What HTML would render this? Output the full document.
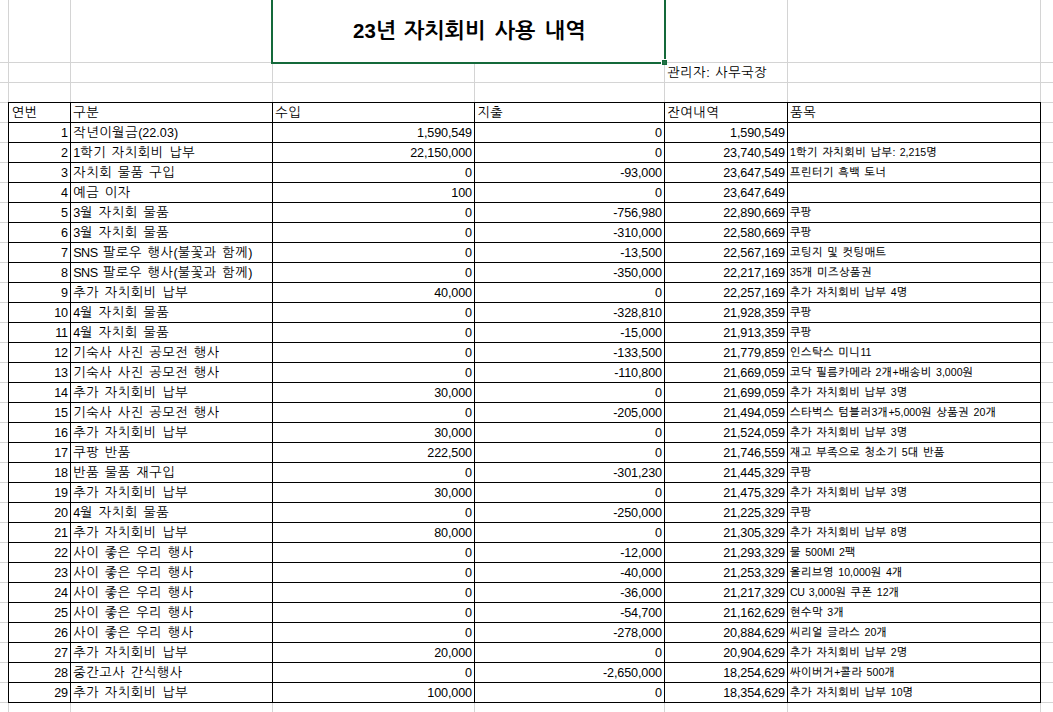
<!DOCTYPE html>
<html lang="ko"><head><meta charset="utf-8"><title>23년 자치회비 사용 내역</title>
<style>
html,body{margin:0;padding:0;background:#fff;}
body{width:1053px;height:712px;position:relative;overflow:hidden;color:#000;font-family:"Liberation Sans", "NanumGothic", sans-serif;font-size:13.2px;word-spacing:1.25px;letter-spacing:0.6px;}
.g{position:absolute;background:#d4d4d4;}
.b{position:absolute;background:#000;}
.r{position:absolute;left:0;width:1053px;height:20px;line-height:20px;white-space:nowrap;}
.r span{position:absolute;top:1px;height:20px;white-space:nowrap;}
.a{left:9px;width:59px;text-align:right;}
.h.a{text-align:left;left:11.2px;}
.c{left:73.2px;}
.d{left:273px;width:199px;text-align:right;}
.e{left:475px;width:187px;text-align:right;}
.f{left:665px;width:120px;text-align:right;}
.h .d{text-align:left;left:275.2px;}
.h .e{text-align:left;left:477.2px;}
.h .f{text-align:left;left:667.2px;}
.r span.s{left:790.0px;font-size:11px;top:0px;word-spacing:0.4px;letter-spacing:0.7px;-webkit-text-stroke:0.15px #000;}
.r span.n{font-family:"Liberation Sans", "NanumGothic", sans-serif;font-size:12.6px;top:1px;word-spacing:0;letter-spacing:-0.12px;}
#t{position:absolute;left:273px;top:0;width:391px;height:62px;line-height:62px;text-align:center;font-weight:bold;font-size:21.6px;white-space:nowrap;word-spacing:3.5px;letter-spacing:0px;}
#t span{position:relative;top:0px;left:0px;}
#m{position:absolute;left:667.2px;top:63px;height:20px;line-height:20px;white-space:nowrap;}
i{font-style:normal;letter-spacing:0px;font-size:12.6px;}
.r span.s i{-webkit-text-stroke:0;font-size:10.6px;letter-spacing:0px;}
#t i{font-size:20.4px;letter-spacing:0px;display:inline-block;transform:scaleX(1);transform-origin:0 50%;margin-right:0px;}
#t b{font-weight:inherit;position:relative;left:1.5px;}
.k{position:absolute;background:#14693a;}
</style></head><body>
<div class="g" style="left:8px;top:0px;width:1px;height:712px"></div>
<div class="g" style="left:70px;top:0px;width:1px;height:712px"></div>
<div class="g" style="left:272px;top:0px;width:1px;height:712px"></div>
<div class="g" style="left:474px;top:62px;width:1px;height:650px"></div>
<div class="g" style="left:664px;top:0px;width:1px;height:712px"></div>
<div class="g" style="left:787px;top:0px;width:1px;height:712px"></div>
<div class="g" style="left:1040px;top:0px;width:1px;height:712px"></div>
<div class="g" style="left:0;top:62px;width:1053px;height:1px"></div>
<div class="g" style="left:0;top:82px;width:1053px;height:1px"></div>
<div class="g" style="left:0;top:102px;width:1053px;height:1px"></div>
<div class="g" style="left:0;top:122px;width:1053px;height:1px"></div>
<div class="g" style="left:0;top:142px;width:1053px;height:1px"></div>
<div class="g" style="left:0;top:162px;width:1053px;height:1px"></div>
<div class="g" style="left:0;top:182px;width:1053px;height:1px"></div>
<div class="g" style="left:0;top:202px;width:1053px;height:1px"></div>
<div class="g" style="left:0;top:222px;width:1053px;height:1px"></div>
<div class="g" style="left:0;top:242px;width:1053px;height:1px"></div>
<div class="g" style="left:0;top:262px;width:1053px;height:1px"></div>
<div class="g" style="left:0;top:282px;width:1053px;height:1px"></div>
<div class="g" style="left:0;top:302px;width:1053px;height:1px"></div>
<div class="g" style="left:0;top:322px;width:1053px;height:1px"></div>
<div class="g" style="left:0;top:342px;width:1053px;height:1px"></div>
<div class="g" style="left:0;top:362px;width:1053px;height:1px"></div>
<div class="g" style="left:0;top:382px;width:1053px;height:1px"></div>
<div class="g" style="left:0;top:402px;width:1053px;height:1px"></div>
<div class="g" style="left:0;top:422px;width:1053px;height:1px"></div>
<div class="g" style="left:0;top:442px;width:1053px;height:1px"></div>
<div class="g" style="left:0;top:462px;width:1053px;height:1px"></div>
<div class="g" style="left:0;top:482px;width:1053px;height:1px"></div>
<div class="g" style="left:0;top:502px;width:1053px;height:1px"></div>
<div class="g" style="left:0;top:522px;width:1053px;height:1px"></div>
<div class="g" style="left:0;top:542px;width:1053px;height:1px"></div>
<div class="g" style="left:0;top:562px;width:1053px;height:1px"></div>
<div class="g" style="left:0;top:582px;width:1053px;height:1px"></div>
<div class="g" style="left:0;top:602px;width:1053px;height:1px"></div>
<div class="g" style="left:0;top:622px;width:1053px;height:1px"></div>
<div class="g" style="left:0;top:642px;width:1053px;height:1px"></div>
<div class="g" style="left:0;top:662px;width:1053px;height:1px"></div>
<div class="g" style="left:0;top:682px;width:1053px;height:1px"></div>
<div class="g" style="left:0;top:702px;width:1053px;height:1px"></div>
<div class="b" style="left:8px;top:102px;width:1033px;height:1px"></div>
<div class="b" style="left:8px;top:122px;width:1033px;height:1px"></div>
<div class="b" style="left:8px;top:142px;width:1033px;height:1px"></div>
<div class="b" style="left:8px;top:162px;width:1033px;height:1px"></div>
<div class="b" style="left:8px;top:182px;width:1033px;height:1px"></div>
<div class="b" style="left:8px;top:202px;width:1033px;height:1px"></div>
<div class="b" style="left:8px;top:222px;width:1033px;height:1px"></div>
<div class="b" style="left:8px;top:242px;width:1033px;height:1px"></div>
<div class="b" style="left:8px;top:262px;width:1033px;height:1px"></div>
<div class="b" style="left:8px;top:282px;width:1033px;height:1px"></div>
<div class="b" style="left:8px;top:302px;width:1033px;height:1px"></div>
<div class="b" style="left:8px;top:322px;width:1033px;height:1px"></div>
<div class="b" style="left:8px;top:342px;width:1033px;height:1px"></div>
<div class="b" style="left:8px;top:362px;width:1033px;height:1px"></div>
<div class="b" style="left:8px;top:382px;width:1033px;height:1px"></div>
<div class="b" style="left:8px;top:402px;width:1033px;height:1px"></div>
<div class="b" style="left:8px;top:422px;width:1033px;height:1px"></div>
<div class="b" style="left:8px;top:442px;width:1033px;height:1px"></div>
<div class="b" style="left:8px;top:462px;width:1033px;height:1px"></div>
<div class="b" style="left:8px;top:482px;width:1033px;height:1px"></div>
<div class="b" style="left:8px;top:502px;width:1033px;height:1px"></div>
<div class="b" style="left:8px;top:522px;width:1033px;height:1px"></div>
<div class="b" style="left:8px;top:542px;width:1033px;height:1px"></div>
<div class="b" style="left:8px;top:562px;width:1033px;height:1px"></div>
<div class="b" style="left:8px;top:582px;width:1033px;height:1px"></div>
<div class="b" style="left:8px;top:602px;width:1033px;height:1px"></div>
<div class="b" style="left:8px;top:622px;width:1033px;height:1px"></div>
<div class="b" style="left:8px;top:642px;width:1033px;height:1px"></div>
<div class="b" style="left:8px;top:662px;width:1033px;height:1px"></div>
<div class="b" style="left:8px;top:682px;width:1033px;height:1px"></div>
<div class="b" style="left:8px;top:702px;width:1033px;height:1px"></div>
<div class="b" style="left:8px;top:102px;width:1px;height:601px"></div>
<div class="b" style="left:70px;top:102px;width:1px;height:601px"></div>
<div class="b" style="left:272px;top:102px;width:1px;height:601px"></div>
<div class="b" style="left:474px;top:102px;width:1px;height:601px"></div>
<div class="b" style="left:664px;top:102px;width:1px;height:601px"></div>
<div class="b" style="left:787px;top:102px;width:1px;height:601px"></div>
<div class="b" style="left:1040px;top:102px;width:1px;height:601px"></div>
<div class="k" style="left:271px;top:0;width:2px;height:64px"></div>
<div class="k" style="left:271px;top:62px;width:390px;height:2px"></div>
<div class="k" style="left:664px;top:0;width:2px;height:59px"></div>
<div style="position:absolute;left:661px;top:59px;width:6px;height:6px;background:#fff"></div>
<div class="k" style="left:662px;top:60px;width:5px;height:5px"></div><div style="position:absolute;left:663px;top:61px;width:3px;height:3px;background:#217346"></div>
<div id="t"><span><b><i>23</i>년</b> 자치회비 사용 내역</span></div>
<div id="m">관리자<i>:</i> 사무국장</div>
<div class="r h" style="top:102px"><span class="a h" style="margin-left:0.6px">연번</span><span class="c">구분</span><span class="d">수입</span><span class="e">지출</span><span class="f">잔여내역</span><span class="c" style="left:790.2px">품목</span></div>
<div class="r" style="top:122px"><span class="a n">1</span><span class="c">작년이월금<i>(22.03)</i></span><span class="d n">1,590,549</span><span class="e n">0</span><span class="f n">1,590,549</span></div>
<div class="r" style="top:142px"><span class="a n">2</span><span class="c"><i>1</i>학기 자치회비 납부</span><span class="d n">22,150,000</span><span class="e n">0</span><span class="f n">23,740,549</span><span class="s"><i>1</i>학기 자치회비 납부<i>:</i> <i>2,215</i>명</span></div>
<div class="r" style="top:162px"><span class="a n">3</span><span class="c">자치회 물품 구입</span><span class="d n">0</span><span class="e n">-93,000</span><span class="f n">23,647,549</span><span class="s">프린터기 흑백 토너</span></div>
<div class="r" style="top:182px"><span class="a n">4</span><span class="c">예금 이자</span><span class="d n">100</span><span class="e n">0</span><span class="f n">23,647,649</span></div>
<div class="r" style="top:202px"><span class="a n">5</span><span class="c"><i>3</i>월 자치회 물품</span><span class="d n">0</span><span class="e n">-756,980</span><span class="f n">22,890,669</span><span class="s">쿠팡</span></div>
<div class="r" style="top:222px"><span class="a n">6</span><span class="c"><i>3</i>월 자치회 물품</span><span class="d n">0</span><span class="e n">-310,000</span><span class="f n">22,580,669</span><span class="s">쿠팡</span></div>
<div class="r" style="top:242px"><span class="a n">7</span><span class="c"><i style="letter-spacing:-0.5px">SNS</i> 팔로우 행사<i>(</i>불꽃과 함께<i>)</i></span><span class="d n">0</span><span class="e n">-13,500</span><span class="f n">22,567,169</span><span class="s">코팅지 및 컷팅매트</span></div>
<div class="r" style="top:262px"><span class="a n">8</span><span class="c"><i style="letter-spacing:-0.5px">SNS</i> 팔로우 행사<i>(</i>불꽃과 함께<i>)</i></span><span class="d n">0</span><span class="e n">-350,000</span><span class="f n">22,217,169</span><span class="s"><i>35</i>개 미즈상품권</span></div>
<div class="r" style="top:282px"><span class="a n">9</span><span class="c">추가 자치회비 납부</span><span class="d n">40,000</span><span class="e n">0</span><span class="f n">22,257,169</span><span class="s">추가 자치회비 납부 <i>4</i>명</span></div>
<div class="r" style="top:302px"><span class="a n">10</span><span class="c"><i>4</i>월 자치회 물품</span><span class="d n">0</span><span class="e n">-328,810</span><span class="f n">21,928,359</span><span class="s">쿠팡</span></div>
<div class="r" style="top:322px"><span class="a n">11</span><span class="c"><i>4</i>월 자치회 물품</span><span class="d n">0</span><span class="e n">-15,000</span><span class="f n">21,913,359</span><span class="s">쿠팡</span></div>
<div class="r" style="top:342px"><span class="a n">12</span><span class="c">기숙사 사진 공모전 행사</span><span class="d n">0</span><span class="e n">-133,500</span><span class="f n">21,779,859</span><span class="s">인스탁스 미니<i>11</i></span></div>
<div class="r" style="top:362px"><span class="a n">13</span><span class="c">기숙사 사진 공모전 행사</span><span class="d n">0</span><span class="e n">-110,800</span><span class="f n">21,669,059</span><span class="s">코닥 필름카메라 <i>2</i>개<i>+</i>배송비 <i>3,000</i>원</span></div>
<div class="r" style="top:382px"><span class="a n">14</span><span class="c">추가 자치회비 납부</span><span class="d n">30,000</span><span class="e n">0</span><span class="f n">21,699,059</span><span class="s">추가 자치회비 납부 <i>3</i>명</span></div>
<div class="r" style="top:402px"><span class="a n">15</span><span class="c">기숙사 사진 공모전 행사</span><span class="d n">0</span><span class="e n">-205,000</span><span class="f n">21,494,059</span><span class="s">스타벅스 텀블러<i>3</i>개<i>+5,000</i>원 상품권 <i>20</i>개</span></div>
<div class="r" style="top:422px"><span class="a n">16</span><span class="c">추가 자치회비 납부</span><span class="d n">30,000</span><span class="e n">0</span><span class="f n">21,524,059</span><span class="s">추가 자치회비 납부 <i>3</i>명</span></div>
<div class="r" style="top:442px"><span class="a n">17</span><span class="c">쿠팡 반품</span><span class="d n">222,500</span><span class="e n">0</span><span class="f n">21,746,559</span><span class="s">재고 부족으로 청소기 <i>5</i>대 반품</span></div>
<div class="r" style="top:462px"><span class="a n">18</span><span class="c">반품 물품 재구입</span><span class="d n">0</span><span class="e n">-301,230</span><span class="f n">21,445,329</span><span class="s">쿠팡</span></div>
<div class="r" style="top:482px"><span class="a n">19</span><span class="c">추가 자치회비 납부</span><span class="d n">30,000</span><span class="e n">0</span><span class="f n">21,475,329</span><span class="s">추가 자치회비 납부 <i>3</i>명</span></div>
<div class="r" style="top:502px"><span class="a n">20</span><span class="c"><i>4</i>월 자치회 물품</span><span class="d n">0</span><span class="e n">-250,000</span><span class="f n">21,225,329</span><span class="s">쿠팡</span></div>
<div class="r" style="top:522px"><span class="a n">21</span><span class="c">추가 자치회비 납부</span><span class="d n">80,000</span><span class="e n">0</span><span class="f n">21,305,329</span><span class="s">추가 자치회비 납부 <i>8</i>명</span></div>
<div class="r" style="top:542px"><span class="a n">22</span><span class="c">사이 좋은 우리 행사</span><span class="d n">0</span><span class="e n">-12,000</span><span class="f n">21,293,329</span><span class="s">물 <i>500</i><i style="letter-spacing:0.4px">Ml</i> <i>2</i>팩</span></div>
<div class="r" style="top:562px"><span class="a n">23</span><span class="c">사이 좋은 우리 행사</span><span class="d n">0</span><span class="e n">-40,000</span><span class="f n">21,253,329</span><span class="s">올리브영 <i>10,000</i>원 <i>4</i>개</span></div>
<div class="r" style="top:582px"><span class="a n">24</span><span class="c">사이 좋은 우리 행사</span><span class="d n">0</span><span class="e n">-36,000</span><span class="f n">21,217,329</span><span class="s"><i style="letter-spacing:-0.3px">CU</i> <i>3,000</i>원 쿠폰 <i>12</i>개</span></div>
<div class="r" style="top:602px"><span class="a n">25</span><span class="c">사이 좋은 우리 행사</span><span class="d n">0</span><span class="e n">-54,700</span><span class="f n">21,162,629</span><span class="s">현수막 <i>3</i>개</span></div>
<div class="r" style="top:622px"><span class="a n">26</span><span class="c">사이 좋은 우리 행사</span><span class="d n">0</span><span class="e n">-278,000</span><span class="f n">20,884,629</span><span class="s">씨리얼 글라스 <i>20</i>개</span></div>
<div class="r" style="top:642px"><span class="a n">27</span><span class="c">추가 자치회비 납부</span><span class="d n">20,000</span><span class="e n">0</span><span class="f n">20,904,629</span><span class="s">추가 자치회비 납부 <i>2</i>명</span></div>
<div class="r" style="top:662px"><span class="a n">28</span><span class="c">중간고사 간식행사</span><span class="d n">0</span><span class="e n">-2,650,000</span><span class="f n">18,254,629</span><span class="s">싸이버거<i>+</i>콜라 <i>500</i>개</span></div>
<div class="r" style="top:682px"><span class="a n">29</span><span class="c">추가 자치회비 납부</span><span class="d n">100,000</span><span class="e n">0</span><span class="f n">18,354,629</span><span class="s">추가 자치회비 납부 <i>10</i>명</span></div>
</body></html>
